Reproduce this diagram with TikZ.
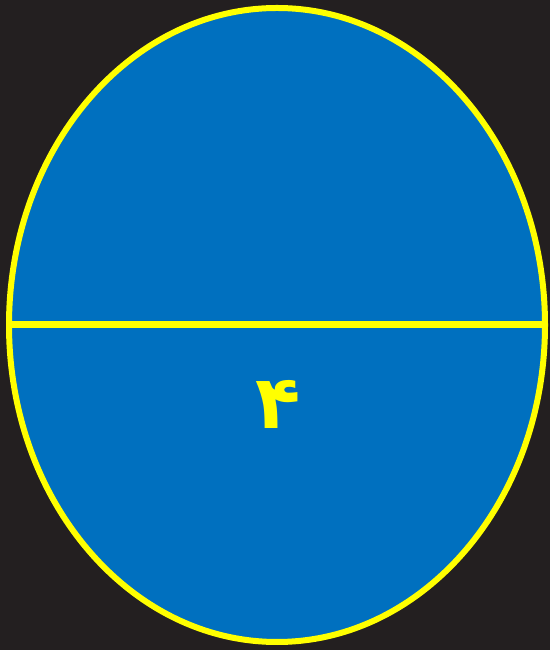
\documentclass[tikz,border=0pt]{standalone}
\usepackage{fontspec}
\TeXXeTstate=1
\newfontfamily\arabicfont[Script=Arabic]{DejaVu Sans}
\definecolor{bgdark}{HTML}{231F20}
\definecolor{ovalblue}{HTML}{0070BF}
\definecolor{rimyellow}{HTML}{FFFF00}
\tikzset{
  rim/.style={draw=rimyellow, line width=6pt},
  digit/.style={text=rimyellow, font=\arabicfont\bfseries\fontsize{74}{74}\selectfont, inner sep=0pt}
}
\begin{document}
\begin{tikzpicture}[x=1pt,y=1pt]
\fill[bgdark] (0,0) rectangle (550,650);
\useasboundingbox (0,0) rectangle (550,650);
\coordinate (c) at (277,325);
\filldraw[rim, fill=ovalblue] (c) ellipse [x radius=268, y radius=317];
\coordinate (l) at (8,325);
\coordinate (r) at (546,325);
\draw[rim, line width=7pt] (l) -- (r);
\node[digit] (d) at (278,246) {\beginR ۴\endR};
\end{tikzpicture}
\end{document}
